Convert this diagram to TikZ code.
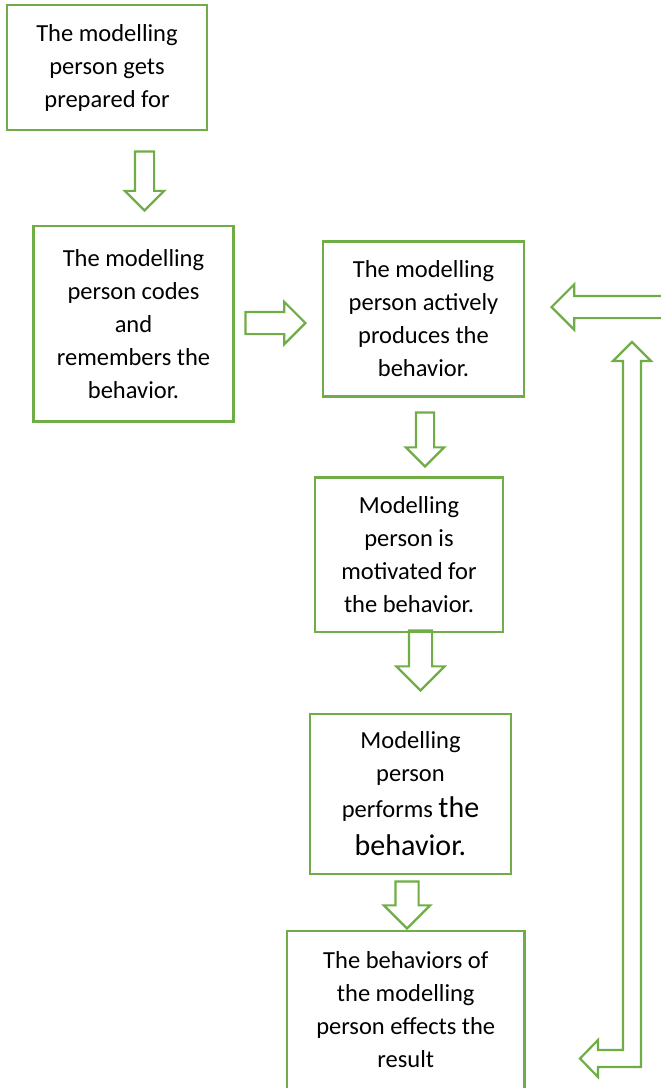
\documentclass[tikz,border=0pt]{standalone}
\usepackage{fontspec}
\setmainfont{Carlito}
\usetikzlibrary{shapes.arrows}
\definecolor{stagegreen}{RGB}{112,173,71}

\tikzset{
    stage/.style={draw=stagegreen, line width=2.5pt, align=center, inner sep=0pt,
        font=\fontsize{24.5}{33}\selectfont},
    blockarrow/.style={single arrow, draw=stagegreen, line width=2.2pt, inner xsep=0pt,
        text height=0pt, text depth=0pt, minimum width=1pt, anchor=tip},
}

\begin{document}
\begin{tikzpicture}[x=1pt, y=-1pt]
    \useasboundingbox (0,0) rectangle (661,1088);
    % stages
    \node[stage, minimum width=200, minimum height=125] (prepared) at (107,67.5) {The modelling\\person gets\\prepared for};
    \node[stage, minimum width=200, minimum height=195.5] (codes) at (133.5,323.75) {The modelling\\person codes\\and\\remembers the\\behavior.};
    \node[stage, minimum width=201, minimum height=155] (produces) at (423.5,319) {The modelling\\person actively\\produces the\\behavior.};
    \node[stage, minimum width=188, minimum height=154.5] (motivated) at (409,554.75) {Modelling\\person is\\motivated for\\the behavior.};
    \node[stage, minimum width=201, minimum height=160] (performs) at (410.5,794) {Modelling\\person\\[3pt]performs {\fontsize{30}{36}\selectfont the}\\[5pt]{\fontsize{30}{36}\selectfont behavior.}};
    \node[stage, minimum width=237.5, minimum height=158] (result) at (405.75,1010) {The behaviors of\\the modelling\\person effects the\\result};
    % block arrows
    \node[blockarrow, rotate=-90, minimum height=59, inner ysep=8.5, single arrow head extend=10] (prepared2codes) at (144.5,212) {};
    \node[blockarrow, minimum height=60, inner ysep=10, single arrow head extend=10] (codes2produces) at (307,323) {};
    \node[blockarrow, rotate=-90, minimum height=54, inner ysep=8, single arrow head extend=10] (produces2motivated) at (425,468) {};
    \node[blockarrow, rotate=-90, minimum height=60, inner ysep=10.5, single arrow head extend=12.5] (motivated2performs) at (420.5,692) {};
    \node[blockarrow, rotate=-90, minimum height=47, inner ysep=10.5, single arrow head extend=11.5] (performs2result) at (407,930) {};
    \node[blockarrow, rotate=180, minimum height=116, inner ysep=10, single arrow head extend=11.5] (back2produces) at (550,307) {};
    % feedback loop
    \draw[stagegreen, line width=2.2pt] (580,1058.5) -- (598,1040) -- (598,1050) -- (623,1050) -- (623,361)
        -- (613,361) -- (632,342) -- (651,361) -- (641,361) -- (641,1067) -- (598,1067) -- (598,1077) -- cycle;
\end{tikzpicture}
\end{document}
